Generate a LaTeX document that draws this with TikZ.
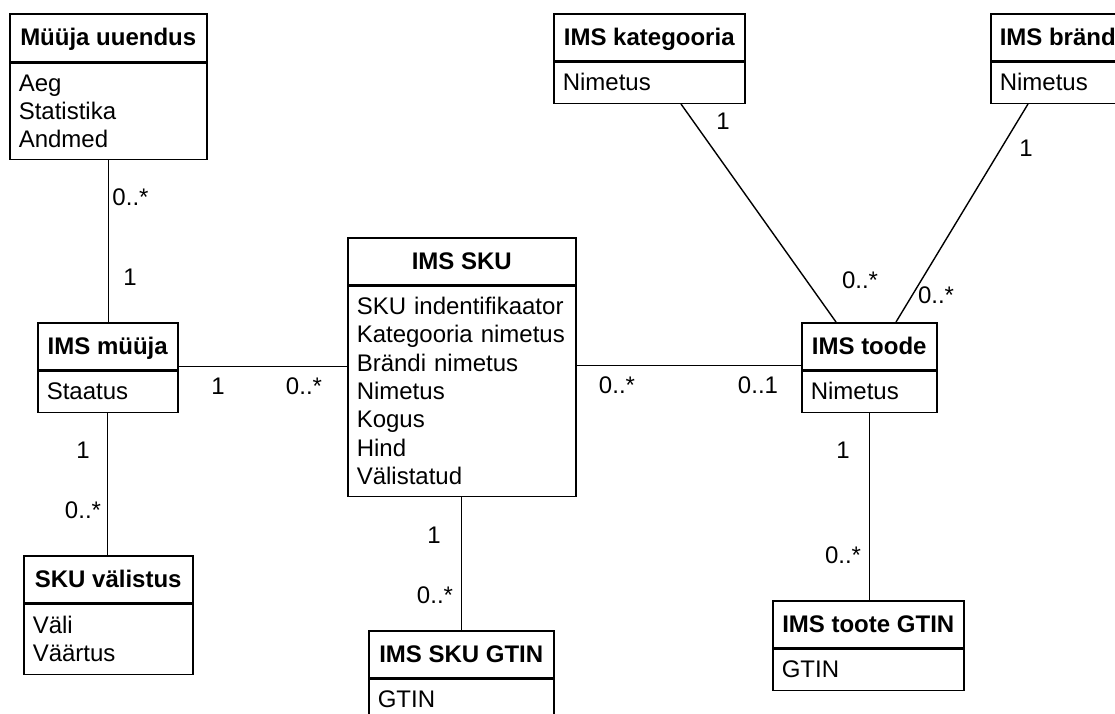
\documentclass[tikz,border=0pt]{standalone}
\usepackage{fontspec}
\setmainfont{Liberation Sans}
\usetikzlibrary{calc}
% one text row: 22.3pt above the baseline, 6pt below
\newcommand\rowstrut{\rule[-6pt]{0pt}{28.3pt}}
\begin{document}
\begin{tikzpicture}[x=1pt,y=-1pt,
  txt/.style={font=\fontsize{24}{28.3}\selectfont},
  classhead/.style 2 args={draw=black, line width=1.5pt, inner sep=0pt,
    anchor=north west, minimum width=#1, minimum height=#2,
    font=\fontsize{24}{28.3}\selectfont\bfseries},
  classbody/.style n args={3}{draw=black, line width=1.5pt, inner xsep=9pt,
    inner ysep=0pt, anchor=north west, minimum width=#1, text width=#2,
    minimum height=#3, align=left, txt},
  conn/.style={draw=black, line width=1.4pt},
  mult/.style={txt, anchor=base, inner sep=0pt}
]
\fill[white] (0,0) rectangle (1115,713);
\useasboundingbox (0,0) rectangle (1115,713);

% --- classes ---
\node[classhead={197pt}{48pt}] (uuh) at (9,13) {\rowstrut Müüja uuendus};
\node[classbody={197pt}{179pt}{96pt}] (uub) at (uuh.south west)
  {\rowstrut Aeg\\\rowstrut Statistika\\\rowstrut Andmed};

\node[classhead={191pt}{47pt}] (kah) at (553,13) {\rowstrut IMS kategooria};
\node[classbody={191pt}{173pt}{41pt}] (kab) at (kah.south west) {\rowstrut Nimetus};

\node[classhead={134pt}{47pt}] (brh) at (990,13) {\rowstrut IMS bränd};
\node[classbody={134pt}{116pt}{41pt}] (brb) at (brh.south west) {\rowstrut Nimetus};

\node[classhead={228pt}{47pt}] (skh) at (347,237) {\rowstrut IMS SKU};
\node[classbody={228pt}{210pt}{210pt}] (skb) at (skh.south west)
  {\rowstrut SKU indentifikaator\\\rowstrut Kategooria nimetus\\\rowstrut Brändi nimetus\\
   \rowstrut Nimetus\\\rowstrut Kogus\\\rowstrut Hind\\\rowstrut Välistatud};

\node[classhead={140pt}{47pt}] (muh) at (37,322) {\rowstrut IMS müüja};
\node[classbody={140pt}{122pt}{41pt}] (mub) at (muh.south west) {\rowstrut Staatus};

\node[classhead={135pt}{47pt}] (toh) at (801,322) {\rowstrut IMS toode};
\node[classbody={135pt}{117pt}{41pt}] (tob) at (toh.south west) {\rowstrut Nimetus};

\node[classhead={169pt}{47pt}] (vah) at (23,555) {\rowstrut SKU välistus};
\node[classbody={169pt}{151pt}{70pt}] (vab) at (vah.south west)
  {\rowstrut Väli\\\rowstrut Väärtus};

\node[classhead={185pt}{47pt}] (sgh) at (368,630) {\rowstrut IMS SKU GTIN};
\node[classbody={185pt}{167pt}{41pt}] (sgb) at (sgh.south west) {\rowstrut GTIN};

\node[classhead={191pt}{47pt}] (tgh) at (772,600) {\rowstrut IMS toote GTIN};
\node[classbody={191pt}{173pt}{41pt}] (tgb) at (tgh.south west) {\rowstrut GTIN};

% --- associations ---
\draw[conn] (uub.south) -- (uub.south |- muh.north);
\draw[conn] (mub.south) -- (mub.south |- vah.north);
\draw[conn] (skb.south) -- (skb.south |- sgh.north);
\draw[conn] (tob.south) -- (tob.south |- tgh.north);

\coordinate (ms) at ([yshift=4pt]muh.south east);
\draw[conn] (ms) -- (ms -| skb.west);
\coordinate (st) at ([yshift=5pt]toh.south west);
\draw[conn] (st -| skb.east) -- (st);

\draw[conn] ([xshift=128pt]kab.south west) -- ([xshift=35pt]toh.north west);
\draw[conn] ([xshift=38pt]brb.south west) -- ([xshift=95pt]toh.north west);

% --- multiplicities ---
\node[mult] (m1) at (130.5,205.5) {0..*};
\node[mult] (m2) at (130,285.5) {1};
\node[mult] (m3) at (218,394.5) {1};
\node[mult] (m4) at (304,394.5) {0..*};
\node[mult] (m5) at (83,458.5) {1};
\node[mult] (m6) at (83,518.5) {0..*};
\node[mult] (m7) at (617,393.5) {0..*};
\node[mult] (m8) at (758,393.5) {0..1};
\node[mult] (m9) at (434,543.5) {1};
\node[mult] (m10) at (435,603.5) {0..*};
\node[mult] (m11) at (723,129.5) {1};
\node[mult] (m12) at (860,288.5) {0..*};
\node[mult] (m13) at (1026,156.5) {1};
\node[mult] (m14) at (936,303.5) {0..*};
\node[mult] (m15) at (843,458.5) {1};
\node[mult] (m16) at (843,563.5) {0..*};
\end{tikzpicture}
\end{document}
